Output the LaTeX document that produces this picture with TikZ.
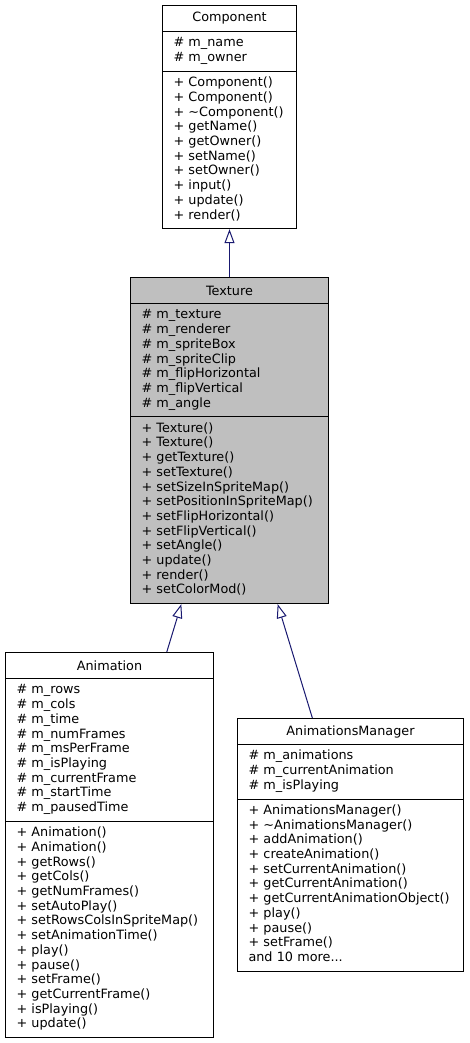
\documentclass[tikz,border=0pt]{standalone}
\usepackage{fontspec}
\setmainfont{DejaVu Sans}
\usetikzlibrary{arrows.meta,calc}
\definecolor{edgeblue}{HTML}{191970}
\definecolor{texgray}{HTML}{BFBFBF}
\begin{document}
\begin{tikzpicture}[x=1pt,y=-1pt,
  base/.style={draw=black, line width=1pt, anchor=north west, font=\fontsize{12.8}{14.7}\selectfont},
  sec/.style={base, inner xsep=11pt, inner ysep=0pt, align=left,
    execute at begin node=\strut, execute at end node=\strut},
  ttl/.style={base, inner sep=0pt, align=center},
  gray/.style={fill=texgray},
  inh/.style={draw=edgeblue, line width=1pt, -{Triangle[length=14pt, width=10pt, fill=white]}}
]
\useasboundingbox (0,0) rectangle (469,1043);

% Component
\node[ttl, minimum width=134pt, minimum height=26pt] (compT) at (162,5) {Component};
\node[sec, minimum width=134pt, text width=112pt, minimum height=39.8pt] (compA) at (162,31)
  {\# m\_name\\\# m\_owner};
\node[sec, minimum width=134pt, text width=112pt, minimum height=157.4pt] (compM) at (162,70.8)
  {+ Component()\\+ Component()\\+ \textasciitilde Component()\\+ getName()\\+ getOwner()\\+ setName()\\+ setOwner()\\+ input()\\+ update()\\+ render()};

% Texture
\node[ttl, gray, minimum width=198pt, minimum height=26pt] (texT) at (130,277) {Texture};
\node[sec, gray, minimum width=198pt, text width=176pt, minimum height=113.3pt] (texA) at (130,303)
  {\# m\_texture\\\# m\_renderer\\\# m\_spriteBox\\\# m\_spriteClip\\\# m\_flipHorizontal\\\# m\_flipVertical\\\# m\_angle};
\node[sec, gray, minimum width=198pt, text width=176pt, minimum height=186.8pt] (texM) at (130,416.3)
  {+ Texture()\\+ Texture()\\+ getTexture()\\+ setTexture()\\+ setSizeInSpriteMap()\\+ setPositionInSpriteMap()\\+ setFlipHorizontal()\\+ setFlipVertical()\\+ setAngle()\\+ update()\\+ render()\\+ setColorMod()};

% Animation
\node[ttl, minimum width=208pt, minimum height=26pt] (animT) at (5,652) {Animation};
\node[sec, minimum width=208pt, text width=186pt, minimum height=142.7pt] (animA) at (5,678)
  {\# m\_rows\\\# m\_cols\\\# m\_time\\\# m\_numFrames\\\# m\_msPerFrame\\\# m\_isPlaying\\\# m\_currentFrame\\\# m\_startTime\\\# m\_pausedTime};
\node[sec, minimum width=208pt, text width=186pt, minimum height=216.2pt] (animM) at (5,820.7)
  {+ Animation()\\+ Animation()\\+ getRows()\\+ getCols()\\+ getNumFrames()\\+ setAutoPlay()\\+ setRowsColsInSpriteMap()\\+ setAnimationTime()\\+ play()\\+ pause()\\+ setFrame()\\+ getCurrentFrame()\\+ isPlaying()\\+ update()};

% AnimationsManager
\node[ttl, minimum width=226pt, minimum height=26pt] (amT) at (237,718) {AnimationsManager};
\node[sec, minimum width=226pt, text width=204pt, minimum height=54.5pt] (amA) at (237,744)
  {\# m\_animations\\\# m\_currentAnimation\\\# m\_isPlaying};
\node[sec, minimum width=226pt, text width=204pt, minimum height=172.1pt] (amM) at (237,798.5)
  {+ AnimationsManager()\\+ \textasciitilde AnimationsManager()\\+ addAnimation()\\+ createAnimation()\\+ setCurrentAnimation()\\+ getCurrentAnimation()\\+ getCurrentAnimationObject()\\+ play()\\+ pause()\\+ setFrame()\\and 10 more...};

% inheritance
\draw[inh] (texT.north) -- (compM.south);
\draw[inh] ($(animT.north west)!0.774!(animT.north east)$) -- ($(texM.south west)!0.258!(texM.south east)$);
\draw[inh] ($(amT.north west)!0.332!(amT.north east)$) -- ($(texM.south west)!0.742!(texM.south east)$);
\end{tikzpicture}
\end{document}
